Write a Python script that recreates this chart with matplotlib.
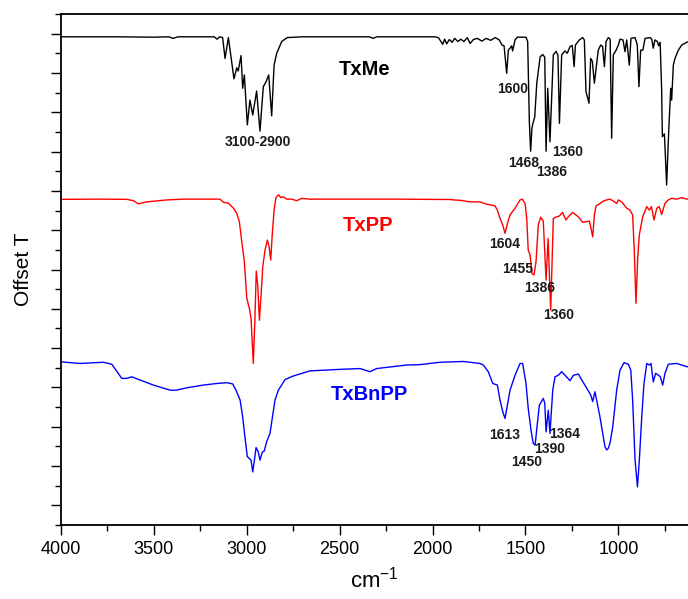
import matplotlib

matplotlib.use("Agg")
import matplotlib.pyplot as plt
from matplotlib.ticker import MultipleLocator

plt.rcParams["font.family"] = ["Liberation Sans", "DejaVu Sans"]
plt.rcParams["mathtext.fontset"] = "custom"
plt.rcParams["mathtext.rm"] = "Liberation Sans"

# FTIR spectra, already stacked with their vertical offsets (Offset T units)
txme_wn = [4000, 3700, 3500, 3420, 3397, 3370, 3250, 3175, 3160, 3145, 3130, 3117, 3099,
           3069, 3054, 3046, 3031, 3022, 3013, 2997, 2983, 2968, 2947, 2929, 2911, 2896,
           2882, 2866, 2853, 2839, 2812, 2782, 2700, 2500, 2340, 2320, 2300, 2100, 1990,
           1969, 1956, 1945, 1935, 1924, 1910, 1895, 1881, 1863, 1848, 1831, 1813, 1798,
           1780, 1759, 1734, 1712, 1687, 1662, 1641, 1626, 1615, 1601, 1592, 1583, 1574,
           1569, 1556, 1544, 1497, 1488, 1479, 1472, 1465, 1458, 1450, 1439, 1421, 1407,
           1396, 1389, 1380, 1368, 1350, 1335, 1325, 1317, 1305, 1287, 1275, 1260, 1248,
           1238, 1231, 1210, 1192, 1183, 1174, 1167, 1158, 1149, 1140, 1129, 1108, 1095,
           1085, 1075, 1066, 1054, 1044, 1036, 1027, 1012, 1000, 991, 975, 964, 955, 941,
           932, 910, 898, 889, 880, 868, 856, 829, 820, 812, 803, 790, 783, 775, 767, 763,
           752, 740, 729, 718, 713, 704, 695, 677, 659, 632, 620]
txme_t = [11.92, 11.92, 11.91, 11.92, 11.88, 11.92, 11.92, 11.92, 11.86, 11.92, 11.90, 11.37, 11.90,
          10.85, 11.13, 11.05, 11.44, 10.61, 10.95, 9.68, 10.31, 9.93, 10.54, 9.52, 10.65, 10.78,
          10.95, 9.91, 11.20, 11.50, 11.80, 11.90, 11.92, 11.92, 11.92, 11.88, 11.92, 11.92, 11.92,
          11.90, 11.81, 11.73, 11.86, 11.74, 11.85, 11.78, 11.88, 11.80, 11.86, 11.80, 11.90, 11.75,
          11.85, 11.88, 11.81, 11.88, 11.83, 11.90, 11.84, 11.71, 11.69, 10.99, 11.58, 11.63, 11.69,
          11.56, 11.84, 11.91, 11.91, 11.80, 9.76, 9.01, 9.60, 9.75, 9.88, 10.74, 11.41, 11.47,
          11.40, 9.01, 10.61, 9.25, 11.46, 11.55, 11.45, 9.72, 11.46, 11.56, 11.50, 11.67, 11.70,
          11.16, 11.71, 11.84, 11.90, 11.84, 10.52, 10.40, 10.23, 11.37, 11.30, 10.74, 11.58, 11.71,
          11.68, 11.16, 11.80, 11.90, 11.86, 9.34, 11.46, 11.58, 11.71, 11.86, 11.84, 11.54, 11.84, 11.20,
          11.88, 11.90, 11.71, 10.65, 11.58, 11.58, 11.88, 11.90, 11.86, 11.63, 11.84, 11.80, 11.69, 11.78, 10.61, 9.38,
          9.45, 8.15, 9.51, 10.61, 10.31, 11.20, 11.37, 11.58, 11.71, 11.78, 11.80]

txpp_wn = [4000, 3800, 3646, 3610, 3584, 3539, 3431, 3342, 3144, 3126, 3099, 3072, 3054,
           3040, 3027, 3013, 3000, 2986, 2977, 2965, 2956, 2949, 2941, 2932, 2923, 2914,
           2902, 2889, 2880, 2871, 2863, 2853, 2843, 2830, 2817, 2803, 2785, 2758, 2731,
           2704, 2660, 2478, 2200, 1900, 1888, 1850, 1798, 1745, 1708, 1664, 1651, 1637,
           1622, 1610, 1597, 1583, 1556, 1529, 1517, 1502, 1493, 1485, 1475, 1465, 1454,
           1443, 1431, 1418, 1404, 1389, 1378, 1364, 1350, 1332, 1318, 1300, 1282, 1264,
           1246, 1215, 1192, 1156, 1149, 1138, 1129, 1120, 1099, 1081, 1063, 1045, 1027,
           1009, 1000, 982, 955, 937, 923, 914, 905, 896, 887, 869, 847, 833, 822, 808,
           793, 780, 767, 749, 731, 713, 686, 659, 632, 620]
txpp_t = [7.785, 7.79, 7.785, 7.75, 7.67, 7.72, 7.77, 7.79, 7.79, 7.71, 7.69, 7.56, 7.43,
          7.22, 6.71, 6.20, 5.27, 5.01, 4.76, 3.61, 4.76, 5.96, 5.60, 4.71, 5.35, 6.07,
          6.49, 6.75, 6.58, 6.24, 6.88, 7.51, 7.83, 7.90, 7.83, 7.85, 7.79, 7.79, 7.75,
          7.81, 7.79, 7.79, 7.79, 7.78, 7.77, 7.76, 7.72, 7.72, 7.66, 7.62, 7.51, 7.30,
          7.13, 6.92, 7.17, 7.39, 7.56, 7.77, 7.79, 7.68, 7.30, 6.49, 6.37, 5.90, 5.86,
          6.20, 7.13, 7.33, 7.23, 5.73, 6.79, 4.97, 7.30, 7.34, 7.36, 7.45, 7.26, 7.37,
          7.45, 7.34, 7.20, 7.23, 7.09, 6.83, 7.39, 7.62, 7.68, 7.74, 7.77, 7.79, 7.74,
          7.68, 7.77, 7.72, 7.56, 7.51, 7.39, 6.45, 5.14, 6.28, 6.88, 7.34, 7.60, 7.51, 7.60, 7.26,
          7.56, 7.60, 7.40, 7.68, 7.77, 7.81, 7.79, 7.83, 7.79, 7.80]

txbnpp_wn = [4000, 3898, 3772, 3727, 3704, 3673, 3646, 3619, 3575, 3503, 3413, 3380, 3323,
             3234, 3162, 3108, 3076, 3058, 3036, 3022, 3010, 2997, 2986, 2977, 2968, 2959,
             2950, 2938, 2929, 2916, 2906, 2893, 2875, 2863, 2848, 2830, 2794, 2750, 2660,
             2498, 2390, 2337, 2301, 2139, 2068, 1960, 1834, 1745, 1727, 1700, 1676, 1651,
             1637, 1622, 1610, 1597, 1583, 1556, 1529, 1515, 1497, 1485, 1470, 1458, 1448,
             1436, 1425, 1404, 1396, 1389, 1377, 1368, 1353, 1341, 1323, 1305, 1287, 1260,
             1242, 1215, 1197, 1170, 1149, 1138, 1126, 1113, 1099, 1084, 1072, 1063, 1054,
             1045, 1030, 1009, 991, 969, 946, 933, 923, 910, 897, 887, 874, 862, 847, 833,
             824, 812, 799, 785, 775, 761, 749, 731, 686, 632, 620]
txbnpp_t = [3.65, 3.61, 3.64, 3.59, 3.44, 3.23, 3.23, 3.27, 3.19, 3.06, 2.93, 2.93, 2.99,
            3.06, 3.10, 3.12, 3.09, 2.93, 2.68, 2.25, 1.74, 1.24, 1.19, 1.15, 0.85, 1.15,
            1.47, 1.36, 1.15, 1.36, 1.38, 1.62, 1.83, 2.21, 2.68, 2.93, 3.20, 3.29, 3.42,
            3.46, 3.48, 3.40, 3.48, 3.57, 3.58, 3.64, 3.66, 3.61, 3.57, 3.40, 3.10, 3.06,
            2.68, 2.38, 2.21, 2.55, 2.93, 3.31, 3.61, 3.61, 3.10, 2.47, 1.91, 1.58, 1.53,
            2.08, 2.55, 2.72, 2.60, 1.87, 2.42, 1.83, 2.93, 3.27, 3.31, 3.40, 3.31, 3.17,
            3.31, 3.34, 3.19, 2.98, 2.81, 2.64, 2.89, 2.59, 2.25, 1.83, 1.49, 1.41, 1.45,
            1.58, 2.00, 2.93, 3.44, 3.63, 3.59, 3.44, 2.68, 1.15, 0.47, 1.15, 2.25, 3.10, 3.61, 3.57,
            3.61, 3.14, 3.36, 3.31, 3.28, 3.06, 3.36, 3.59, 3.61, 3.53, 3.52]

# sample names and band assignments (wavenumber, offset T, text)
names = ["TxMe", "TxPP", "TxBnPP"]
colors = ["black", "red", "blue"]
name_pos = [(2364, 11.08), (2347, 7.11), (2342, 2.81)]
band_labels = [
    (2940, 9.24, "3100-2900"),
    (1567, 10.59, "1600"), (1508, 8.71, "1468"), (1357, 8.48, "1386"), (1271, 8.99, "1360"),
    (1610, 6.65, "1604"), (1540, 6.01, "1455"), (1422, 5.53, "1386"), (1319, 4.84, "1360"),
    (1610, 1.79, "1613"), (1492, 1.10, "1450"), (1368, 1.43, "1390"), (1287, 1.81, "1364"),
]

fig = plt.figure(figsize=(6.88, 5.99), dpi=100)
ax = fig.add_axes([61 / 688, 74 / 599, 627 / 688, 511 / 599])

for wn, t, c in zip([txme_wn, txpp_wn, txbnpp_wn], [txme_t, txpp_t, txbnpp_t], colors):
    ax.plot(wn, t, color=c, lw=1.0)

for (x, y), name, c in zip(name_pos, names, colors):
    ax.text(x, y, name, color=c, fontsize=14.5, fontweight="bold", ha="center", va="center")
for x, y, s in band_labels:
    ax.text(x, y, s, color="#1a1a1a", fontsize=10, fontweight="bold", ha="center", va="center")

ax.set_xlim(4000, 625)
ax.set_ylim(-0.5, 12.5)
ax.xaxis.set_major_locator(MultipleLocator(500))
ax.xaxis.set_minor_locator(MultipleLocator(250))
ax.yaxis.set_major_locator(MultipleLocator(1))
ax.yaxis.set_minor_locator(MultipleLocator(0.5))
ax.tick_params(which="both", direction="out", width=1.0, top=False, right=False)
ax.tick_params(which="major", length=7.5)
ax.tick_params(which="minor", length=4)
ax.tick_params(axis="x", labelsize=13, pad=4)
ax.tick_params(axis="y", labelleft=False)
ax.spines["right"].set_visible(False)
for side in ["left", "bottom", "top"]:
    ax.spines[side].set_linewidth(1.3)

ax.set_xlabel("cm$^{-1}$", fontsize=16, labelpad=6)
ax.set_ylabel("Offset T", fontsize=15, labelpad=13)

fig.savefig("out.png", dpi=100)
